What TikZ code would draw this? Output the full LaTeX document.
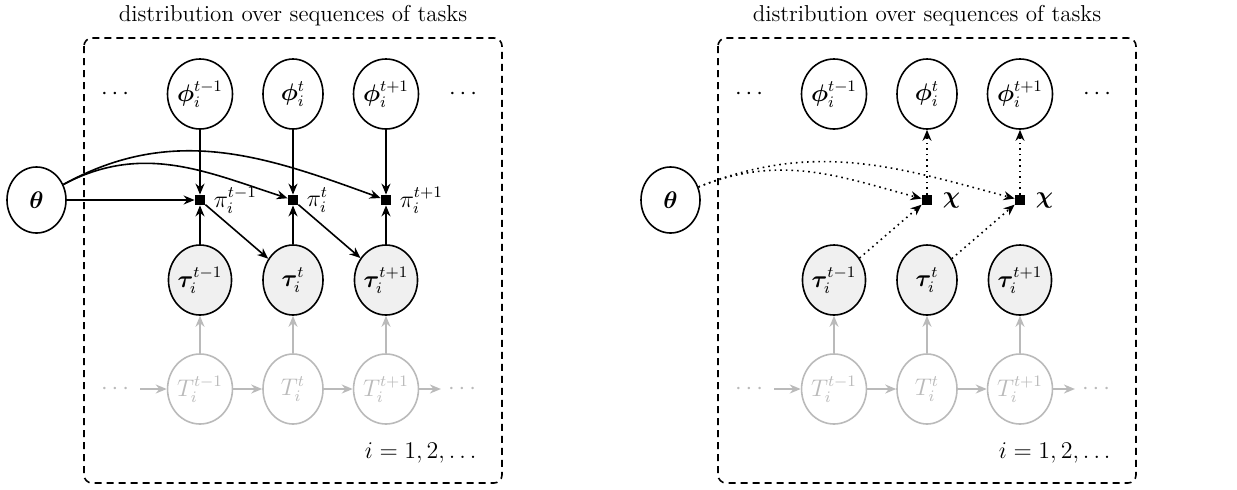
\documentclass[tikz,border=0pt]{standalone}
\usepackage{amsmath,bm}
\usetikzlibrary{shapes.geometric,arrows.meta}

\tikzset{
  var/.style={ellipse, draw, line width=0.8pt, minimum width=30pt, minimum height=35pt, inner sep=0pt},
  obs/.style={var, fill=black!6},
  task/.style={var, draw=black!27, text=black!27},
  fac/.style={rectangle, fill=black, minimum size=5pt, inner sep=0pt},
  edge/.style={-{Stealth[length=5.5pt,width=4.5pt]}, line width=0.8pt},
  gedge/.style={edge, draw=black!27},
  dedge/.style={edge, dotted},
  plate/.style={draw, dash pattern=on 3.5pt off 2.5pt, rounded corners=4pt, line width=0.8pt},
  heading/.style={font=\fontsize{11.5}{14}\selectfont},
}

% Shared part of each panel: plate, variables and the task chain
\newcommand\chainplate{%
  \draw[plate] (84,-38) rectangle (502,-483);
  \node (title) [heading, anchor=base] at (293,-21) {distribution over sequences of tasks};
  \node (th) [var, minimum width=29.5pt, minimum height=33pt] at (36.5,-200) {$\bm{\theta}$};
  \node (dl) at (117,-94) {$\cdots$};
  \node (dr) at (465,-94) {$\cdots$};
  \node (p1) [var] at (200,-94) {$\bm{\phi}_i^{t-1}$};
  \node (p2) [var] at (293,-94) {$\bm{\phi}_i^{t}$};
  \node (p3) [var] at (386,-94) {$\bm{\phi}_i^{t+1}$};
  \node (s1) [obs] at (200,-280) {$\bm{\tau}_i^{t-1}$};
  \node (s2) [obs] at (293,-280) {$\bm{\tau}_i^{t}$};
  \node (s3) [obs] at (386,-280) {$\bm{\tau}_i^{t+1}$};
  \node (T1) [task] at (200,-389) {$T_i^{t-1}$};
  \node (T2) [task] at (293,-389) {$T_i^{t}$};
  \node (T3) [task] at (386,-389) {$T_i^{t+1}$};
  \node (gl) [text=black!27] at (117,-389) {$\cdots$};
  \node (gr) [text=black!27] at (464,-389) {$\cdots$};
  \node (idx) [anchor=east, inner sep=0pt] at (481,-453) {$i=1,2,\dots$};
  \draw[gedge] (gl) -- (T1);
  \draw[gedge] (T1) -- (T2);
  \draw[gedge] (T2) -- (T3);
  \draw[gedge] (T3) -- (gr);
  \draw[gedge] (T1) -- (s1);
  \draw[gedge] (T2) -- (s2);
  \draw[gedge] (T3) -- (s3);
}

\begin{document}
\begin{tikzpicture}[x=0.5pt, y=0.5pt, font=\fontsize{11.5}{14}\selectfont]
\useasboundingbox (0,0) rectangle (1237,-489);

% Left panel: policy factors
\begin{scope}[name prefix=L-]
  \chainplate
  \node (f1) [fac] at (200,-200) {};
  \node (f2) [fac] at (293,-200) {};
  \node (f3) [fac] at (386,-200) {};
  \node (l1) [anchor=west, inner sep=0pt] at ([xshift=4pt]f1.east) {$\pi_i^{t-1}$};
  \node (l2) [anchor=west, inner sep=0pt] at ([xshift=4pt]f2.east) {$\pi_i^{t}$};
  \node (l3) [anchor=west, inner sep=0pt] at ([xshift=4pt]f3.east) {$\pi_i^{t+1}$};
  \draw[edge] (p1) -- (f1);
  \draw[edge] (p2) -- (f2);
  \draw[edge] (p3) -- (f3);
  \draw[edge] (s1) -- (f1);
  \draw[edge] (s2) -- (f2);
  \draw[edge] (s3) -- (f3);
  \draw[edge] (f1) -- (s2);
  \draw[edge] (f2) -- (s3);
  \draw[edge] (th) -- (f1);
  \draw[edge] (th.30) to[out=28, in=162] (f2);
  \draw[edge] (th.30) to[out=29, in=160] (f3);
\end{scope}

% Right panel: update factors
\begin{scope}[xshift=317pt, name prefix=R-]
  \chainplate
  \node (f2) [fac] at (293,-200) {};
  \node (f3) [fac] at (386,-200) {};
  \node (c2) [anchor=west, inner sep=0pt] at ([xshift=5pt]f2.east) {$\bm{\chi}$};
  \node (c3) [anchor=west, inner sep=0pt] at ([xshift=5pt]f3.east) {$\bm{\chi}$};
  \draw[dedge] (f2) -- (p2);
  \draw[dedge] (f3) -- (p3);
  \draw[dedge] (s1) -- (f2);
  \draw[dedge] (s2) -- (f3);
  \draw[dedge] (th.25) to[out=22, in=165] (f2);
  \draw[dedge] (th.25) to[out=22, in=165] (f3);
\end{scope}
\end{tikzpicture}
\end{document}
